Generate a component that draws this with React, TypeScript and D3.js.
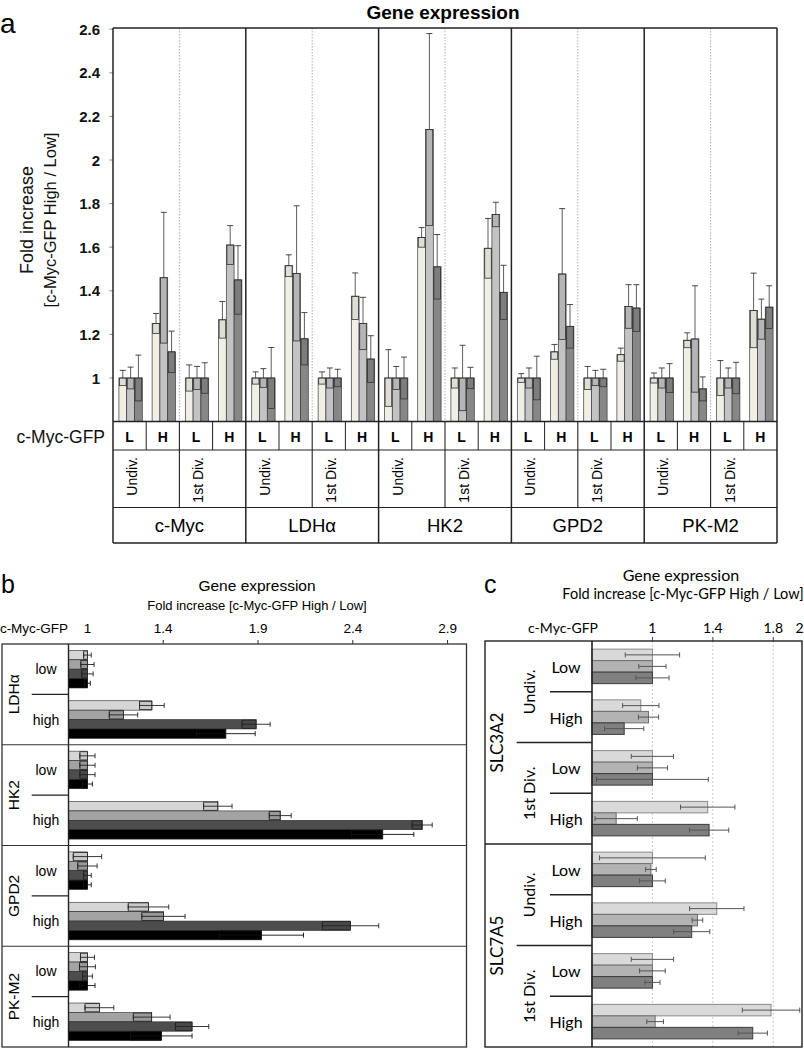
import React from 'react';
import * as d3 from 'd3';

// ---------------- Panel a data ----------------
const genesA = ['c-Myc', 'LDHα', 'HK2', 'GPD2', 'PK-M2'];
const divisionsA = ['Undiv.', '1st Div.'];
const levelsA = ['L', 'H'];
const yTicksA = [1, 1.2, 1.4, 1.6, 1.8, 2, 2.2, 2.4, 2.6];
// rows: Undiv L, Undiv H, 1st Div L, 1st Div H ; columns: 3 series
const cMycMeanA = [[1, 1, 1], [1.25, 1.46, 1.12], [1, 1, 1], [1.267, 1.61, 1.45]];
const cMycErrA = [[0.035, 0.05, 0.105], [0.046, 0.3, 0.095], [0.06, 0.053, 0.07], [0.084, 0.089, 0.157]];
const ldhMeanA = [[1, 1, 1], [1.515, 1.48, 1.18], [1, 1, 1], [1.375, 1.25, 1.087]];
const ldhErrA = [[0.028, 0.043, 0.14], [0.05, 0.31, 0.12], [0.028, 0.046, 0.04], [0.107, 0.12, 0.107]];
const hk2MeanA = [[1, 1, 1], [1.645, 2.14, 1.51], [1, 1, 1], [1.595, 1.75, 1.393]];
const hk2ErrA = [[0.13, 0.053, 0.096], [0.045, 0.44, 0.148], [0.046, 0.15, 0.049], [0.137, 0.056, 0.124]];
const gpd2MeanA = [[1, 1, 1], [1.12, 1.477, 1.237], [1, 1, 1], [1.107, 1.328, 1.321]];
const gpd2ErrA = [[0.02, 0.046, 0.1], [0.034, 0.3, 0.1], [0.053, 0.035, 0.04], [0.03, 0.1, 0.107]];
const pkm2MeanA = [[1, 1, 1], [1.173, 1.179, 0.95], [1, 1, 1], [1.31, 1.27, 1.325]];
const pkm2ErrA = [[0.023, 0.046, 0.066], [0.034, 0.244, 0.055], [0.08, 0.046, 0.072], [0.171, 0.092, 0.098]];
const meansA = [cMycMeanA, ldhMeanA, hk2MeanA, gpd2MeanA, pkm2MeanA];
const errsA = [cMycErrA, ldhErrA, hk2ErrA, gpd2ErrA, pkm2ErrA];
const colorsA = ['#efefe6', '#c3c3c3', '#878787'];

// ---------------- Panel b data ----------------
const genesB = ['LDHα', 'HK2', 'GPD2', 'PK-M2'];
const levelsB = ['low', 'high'];
const tickLabelsB = [1, 1.4, 1.9, 2.4, 2.9];
const ldhMeanB = [[1, 1, 1, 1], [1.34, 1.19, 1.89, 1.73]];
const ldhErrB = [[0.02, 0.035, 0.03, 0.015], [0.065, 0.075, 0.074, 0.155]];
const hk2MeanB = [[1, 1, 1, 1], [1.688, 2.017, 2.766, 2.558]];
const hk2ErrB = [[0.04, 0.04, 0.04, 0.026], [0.075, 0.058, 0.053, 0.164]];
const gpd2MeanB = [[1, 1, 1, 1], [1.322, 1.401, 2.388, 1.918]];
const gpd2ErrB = [[0.075, 0.051, 0.02, 0.02], [0.107, 0.114, 0.149, 0.222]];
const pkm2MeanB = [[1, 1, 1, 1], [1.063, 1.339, 1.552, 1.39]];
const pkm2ErrB = [[0.037, 0.042, 0.026, 0.04], [0.076, 0.097, 0.088, 0.162]];
const meansB = [ldhMeanB, hk2MeanB, gpd2MeanB, pkm2MeanB];
const errsB = [ldhErrB, hk2ErrB, gpd2ErrB, pkm2ErrB];
const colorsB = ['#d6d6d6', '#a3a3a3', '#4d4d4d', '#000000'];

// ---------------- Panel c data ----------------
const genesC = ['SLC3A2', 'SLC7A5'];
const divisionsC = ['Undiv.', '1st Div.'];
const levelsC = ['Low', 'High'];
const tickLabelsC = [1, 1.4, 1.8, 2];
const gridC = [1, 1.4, 1.8];
// rows: Undiv Low, Undiv High, 1st Div Low, 1st Div High
const slc3a2MeanC = [[1, 1, 1], [0.923, 0.974, 0.813], [1, 1, 1], [1.366, 0.76, 1.375]];
const slc3a2ErrC = [[0.18, 0.09, 0.11], [0.12, 0.067, 0.13], [0.14, 0.1, 0.37], [0.18, 0.14, 0.13]];
const slc7a5MeanC = [[1, 0.99, 1], [1.426, 1.298, 1.26], [1, 1, 1], [1.785, 1.018, 1.664]];
const slc7a5ErrC = [[0.35, 0.035, 0.085], [0.18, 0.035, 0.12], [0.14, 0.085, 0.05], [0.19, 0.055, 0.097]];
const meansC = [slc3a2MeanC, slc7a5MeanC];
const errsC = [slc3a2ErrC, slc7a5ErrC];
const colorsC = ['#d9d9d9', '#b3b3b3', '#808080'];
const strokesC = ['#8a8a8a', '#6e6e6e', '#3a3a3a'];

const ARIAL = 'Liberation Sans, Arial, Helvetica, sans-serif';
const LATO = 'Lato, Carlito, Calibri, sans-serif';

function PanelA() {
  const left = 113, right = 777, top = 28;
  const ya = d3.scaleLinear().domain([0.8, 2.6]).range([421.6, 29.2]);
  const bottom = ya(0.8);
  const row1 = 450, row2 = 507.5, row3 = 543;
  const xGene = d3.scaleBand<string>().domain(genesA).range([left, right]);
  const xDiv = d3.scaleBand<string>().domain(divisionsA).range([0, xGene.bandwidth()]);
  const xLev = d3.scaleBand<string>().domain(levelsA).range([0, xDiv.bandwidth()]);
  const xSer = d3.scaleBand<number>().domain([0, 1, 2]).range([0, xLev.bandwidth()]).paddingOuter(0.63);
  const bw = xSer.bandwidth();

  const bars: React.ReactNode[] = [];
  const overlays: React.ReactNode[] = [];
  genesA.forEach((g, gi) => {
    divisionsA.forEach((d, di) => {
      levelsA.forEach((l, li) => {
        const row = di * 2 + li;
        [0, 1, 2].forEach((s) => {
          const v = meansA[gi][row][s];
          const e = errsA[gi][row][s];
          const x = (xGene(g) as number) + (xDiv(d) as number) + (xLev(l) as number) + (xSer(s) as number) + 1;
          const key = `${gi}-${row}-${s}`;
          bars.push(
            <rect key={'b' + key} x={x} y={ya(v)} width={bw} height={bottom - ya(v)}
              fill={colorsA[s]} stroke="#3a3a3a" strokeWidth={0.7} />
          );
          const lo = Math.max(0.8, v - e);
          const cx = x + bw / 2;
          overlays.push(
            <g key={'e' + key}>
              <rect x={x + 0.6} y={ya(v)} width={bw - 1.2} height={ya(lo) - ya(v)}
                fill="rgba(0,0,0,0.07)" stroke="#333" strokeWidth={0.8} />
              <line x1={cx} x2={cx} y1={ya(v)} y2={ya(v + e)} stroke="#333" strokeWidth={0.8} />
              <line x1={cx - 3} x2={cx + 3} y1={ya(v + e)} y2={ya(v + e)} stroke="#333" strokeWidth={0.9} />
            </g>
          );
        });
      });
    });
  });

  const halfLines: React.ReactNode[] = [];
  const lhLines: React.ReactNode[] = [];
  genesA.forEach((g) => {
    divisionsA.forEach((d, di) => {
      const x0 = (xGene(g) as number) + (xDiv(d) as number);
      if (di === 1) {
        halfLines.push(<line key={'dot' + g} x1={x0} x2={x0} y1={top} y2={bottom} stroke="#9a9a9a" strokeWidth={0.8} strokeDasharray="1.5,1.5" />);
        halfLines.push(<line key={'half' + g} x1={x0} x2={x0} y1={bottom} y2={row2} stroke="#222" strokeWidth={1.1} />);
      }
      levelsA.forEach((l, li) => {
        const xl = x0 + (xLev(l) as number);
        if (li === 1) lhLines.push(<line key={'lh' + g + d} x1={xl} x2={xl} y1={bottom} y2={row1} stroke="#222" strokeWidth={1} />);
      });
    });
  });

  return (
    <g>
      <text x={0} y={33} fontFamily={ARIAL} fontSize={28}>a</text>
      <text x={443} y={18.5} textAnchor="middle" fontFamily={ARIAL} fontSize={19} fontWeight="bold">Gene expression</text>
      <g transform="translate(27,220) rotate(-90)">
        <text x={0} y={0} textAnchor="middle" dominantBaseline="central" fontFamily={ARIAL} fontSize={18} fill="#111">Fold increase</text>
      </g>
      <g transform="translate(50,220) rotate(-90)">
        <text x={0} y={0} textAnchor="middle" dominantBaseline="central" fontFamily={ARIAL} fontSize={16.5} fill="#111">[c-Myc-GFP High / Low]</text>
      </g>
      {yTicksA.map((t) => (
        <g key={t}>
          <text x={100} y={ya(t)} textAnchor="end" dominantBaseline="central" fontFamily={ARIAL} fontSize={15} fontWeight="bold" fill="#111">{d3.format('~g')(t)}</text>
          <line x1={left - 3.5} x2={left} y1={ya(t)} y2={ya(t)} stroke="#666" strokeWidth={0.8} />
        </g>
      ))}
      {halfLines}
      {bars}
      {overlays}
      {/* plot frame */}
      <line x1={left} x2={right} y1={top} y2={top} stroke="#222" strokeWidth={1.5} />
      <line x1={left} x2={left} y1={top} y2={row3} stroke="#222" strokeWidth={1.5} />
      <line x1={right} x2={right} y1={top} y2={row3} stroke="#222" strokeWidth={1.5} />
      {genesA.slice(1).map((g) => (
        <line key={'gs' + g} x1={xGene(g)} x2={xGene(g)} y1={top} y2={row3} stroke="#222" strokeWidth={1.5} />
      ))}
      {/* table */}
      {[bottom, row1, row2, row3].map((y, i) => (
        <line key={'tr' + i} x1={left} x2={right} y1={y} y2={y} stroke="#222" strokeWidth={i === 0 || i === 3 ? 1.5 : 1.1} />
      ))}
      {lhLines}
      <text x={105} y={436.5} textAnchor="end" dominantBaseline="central" fontFamily={ARIAL} fontSize={17.5} fill="#111">c-Myc-GFP</text>
      {genesA.map((g) => (
        <g key={'tx' + g}>
          {divisionsA.map((d) => (
            <g key={d}>
              {levelsA.map((l) => (
                <text key={l} x={(xGene(g) as number) + (xDiv(d) as number) + (xLev(l) as number) + xLev.bandwidth() / 2}
                  y={436.5} textAnchor="middle" dominantBaseline="central" fontFamily={ARIAL} fontSize={14} fontWeight="bold">{l}</text>
              ))}
              <g transform={`translate(${(xGene(g) as number) + (xDiv(d) as number) + 19},457) rotate(-90)`}>
                <text x={0} y={0} textAnchor="end" dominantBaseline="central" fontFamily={ARIAL} fontSize={14}>{d}</text>
              </g>
            </g>
          ))}
          <text x={(xGene(g) as number) + xGene.bandwidth() / 2} y={525.5} textAnchor="middle" dominantBaseline="central"
            fontFamily={ARIAL} fontSize={18.5}>{g}</text>
        </g>
      ))}
    </g>
  );
}

function PanelB() {
  const left = 2, axisX = 68.5, right = 466.5, top = 644, bottom = 1047;
  const xb = d3.scaleLinear().domain([0.9, 3.0]).range([axisX, right]);
  const yGene = d3.scaleBand<string>().domain(genesB).range([top, bottom]);
  const yLev = d3.scaleBand<string>().domain(levelsB).range([0, yGene.bandwidth()]);
  const ySer = d3.scaleBand<number>().domain([0, 1, 2, 3]).range([0, yLev.bandwidth()]).paddingOuter(0.68);
  const bh = ySer.bandwidth();
  const marks: React.ReactNode[] = [];
  genesB.forEach((g, gi) => {
    levelsB.forEach((l, li) => {
      [0, 1, 2, 3].forEach((s) => {
        const v = meansB[gi][li][s];
        const e = errsB[gi][li][s];
        const y = (yGene(g) as number) + (yLev(l) as number) + (ySer(s) as number);
        const cy = y + bh / 2;
        const ec = s === 3 ? '#111' : '#222';
        marks.push(
          <g key={`${gi}-${li}-${s}`}>
            <rect x={axisX} y={y} width={xb(v) - axisX} height={bh} fill={colorsB[s]} stroke="#2a2a2a" strokeWidth={0.6} />
            <rect x={xb(v - e)} y={y + 0.6} width={xb(v) - xb(v - e)} height={bh - 1.2} fill="rgba(0,0,0,0.06)" stroke={ec} strokeWidth={0.8} />
            <line x1={xb(v - e)} x2={xb(v + e)} y1={cy} y2={cy} stroke={ec} strokeWidth={0.9} />
            <line x1={xb(v + e)} x2={xb(v + e)} y1={cy - 2.5} y2={cy + 2.5} stroke={ec} strokeWidth={0.9} />
            <line x1={xb(v - e)} x2={xb(v - e)} y1={cy - 2.5} y2={cy + 2.5} stroke={ec} strokeWidth={0.9} />
          </g>
        );
      });
    });
  });
  return (
    <g>
      <text x={1} y={593} fontFamily={ARIAL} fontSize={25}>b</text>
      <text x={257} y={591} textAnchor="middle" fontFamily={ARIAL} fontSize={15.5}>Gene expression</text>
      <text x={257} y={610} textAnchor="middle" fontFamily={ARIAL} fontSize={13}>Fold increase [c-Myc-GFP High / Low]</text>
      <text x={34} y={633} textAnchor="middle" fontFamily={ARIAL} fontSize={13.5}>c-Myc-GFP</text>
      {tickLabelsB.map((t) => (
        <text key={t} x={xb(t)} y={633} textAnchor="middle" fontFamily={ARIAL} fontSize={13.5}>{t}</text>
      ))}
      {tickLabelsB.slice(1).map((t) => (
        <line key={'tk' + t} x1={xb(t)} x2={xb(t)} y1={top} y2={top - 4} stroke="#333" strokeWidth={1} />
      ))}
      {marks}
      <rect x={left} y={top} width={right - left} height={bottom - top} fill="none" stroke="#333" strokeWidth={1.3} />
      <line x1={axisX} x2={axisX} y1={top} y2={bottom} stroke="#222" strokeWidth={1.4} />
      {genesB.slice(1).map((g) => (
        <line key={'gs' + g} x1={left} x2={right} y1={yGene(g)} y2={yGene(g)} stroke="#333" strokeWidth={1.1} />
      ))}
      {genesB.map((g) => {
        const y0 = yGene(g) as number;
        const mid = y0 + (yLev('high') as number);
        return (
          <g key={'lab' + g}>
            <line x1={31.7} x2={axisX} y1={mid} y2={mid} stroke="#222" strokeWidth={1.3} />
            <g transform={`translate(13,${y0 + yGene.bandwidth() / 2}) rotate(-90)`}>
              <text x={0} y={0} textAnchor="middle" dominantBaseline="central" fontFamily={ARIAL} fontSize={15.5}>{g}</text>
            </g>
            {levelsB.map((l) => (
              <text key={l} x={46} y={y0 + (yLev(l) as number) + yLev.bandwidth() / 2} textAnchor="middle"
                dominantBaseline="central" fontFamily={ARIAL} fontSize={14}>{l}</text>
            ))}
          </g>
        );
      })}
    </g>
  );
}

function PanelC() {
  const left = 485, axisX = 592, right = 802, top = 641, bottom = 1047;
  const xc = d3.scaleLinear().domain([0.6, 2.0]).range([axisX, 803.5]);
  const yGene = d3.scaleBand<string>().domain(genesC).range([top, bottom]);
  const yDiv = d3.scaleBand<string>().domain(divisionsC).range([0, yGene.bandwidth()]);
  const yLev = d3.scaleBand<string>().domain(levelsC).range([0, yDiv.bandwidth()]);
  const ySer = d3.scaleBand<number>().domain([0, 1, 2]).range([0, yLev.bandwidth()]).paddingOuter(0.706);
  const bh = ySer.bandwidth();
  const marks: React.ReactNode[] = [];
  const labels: React.ReactNode[] = [];
  genesC.forEach((g, gi) => {
    const g0 = yGene(g) as number;
    if (gi > 0) labels.push(<line key={'gs' + g} x1={left} x2={axisX} y1={g0} y2={g0} stroke="#222" strokeWidth={1.4} />);
    labels.push(
      <g key={'gl' + g} transform={`translate(496,${g0 + yGene.bandwidth() / 2}) rotate(-90)`}>
        <text x={0} y={0} textAnchor="middle" dominantBaseline="central" fontFamily={LATO} fontSize={17}>{g}</text>
      </g>
    );
    divisionsC.forEach((d, di) => {
      const d0 = g0 + (yDiv(d) as number);
      if (di > 0) labels.push(<line key={'ds' + g + d} x1={516.7} x2={axisX} y1={d0} y2={d0} stroke="#222" strokeWidth={1.4} />);
      labels.push(
        <g key={'dl' + g + d} transform={`translate(528,${d0 + yDiv.bandwidth() / 2}) rotate(-90)`}>
          <text x={0} y={0} textAnchor="middle" dominantBaseline="central" fontFamily={LATO} fontSize={16}>{d}</text>
        </g>
      );
      levelsC.forEach((l, li) => {
        const l0 = d0 + (yLev(l) as number);
        if (li > 0) labels.push(<line key={'ls' + g + d} x1={550} x2={axisX} y1={l0} y2={l0} stroke="#222" strokeWidth={1.4} />);
        labels.push(
          <text key={'ll' + g + d + l} x={566} y={l0 + yLev.bandwidth() / 2} textAnchor="middle" dominantBaseline="central"
            fontFamily={LATO} fontSize={16}>{l}</text>
        );
        const row = di * 2 + li;
        [0, 1, 2].forEach((s) => {
          const v = meansC[gi][row][s];
          const e = errsC[gi][row][s];
          const y = l0 + (ySer(s) as number);
          const cy = y + bh / 2;
          marks.push(
            <g key={`${gi}-${row}-${s}`}>
              <rect x={axisX} y={y} width={xc(v) - axisX} height={bh} fill={colorsC[s]} stroke={strokesC[s]} strokeWidth={1} />
              <line x1={xc(v - e)} x2={xc(v + e)} y1={cy} y2={cy} stroke="#555" strokeWidth={1} />
              <line x1={xc(v - e)} x2={xc(v - e)} y1={cy - 2.5} y2={cy + 2.5} stroke="#555" strokeWidth={1} />
              <line x1={xc(v + e)} x2={xc(v + e)} y1={cy - 2.5} y2={cy + 2.5} stroke="#555" strokeWidth={1} />
            </g>
          );
        });
      });
    });
  });
  return (
    <g>
      <text x={484} y={593} fontFamily={ARIAL} fontSize={25}>c</text>
      <text x={681} y={581} textAnchor="middle" fontFamily={LATO} fontSize={16}>Gene expression</text>
      <text x={683} y={599} textAnchor="middle" fontFamily={LATO} fontSize={14.5}>Fold increase [c-Myc-GFP High / Low]</text>
      <text x={563} y={633} textAnchor="middle" fontFamily={LATO} fontSize={14}>c-Myc-GFP</text>
      {tickLabelsC.map((t, i) => (
        <text key={t} x={xc(t)} y={633} textAnchor={i === tickLabelsC.length - 1 ? 'end' : 'middle'}
          fontFamily={LATO} fontSize={14}>{t}</text>
      ))}
      {gridC.map((t) => (
        <g key={'g' + t}>
          <line x1={xc(t)} x2={xc(t)} y1={top} y2={bottom} stroke="#bdbdbd" strokeWidth={0.8} strokeDasharray="2,2" />
          <line x1={xc(t)} x2={xc(t)} y1={top} y2={top - 4} stroke="#444" strokeWidth={1} />
        </g>
      ))}
      {marks}
      <rect x={left} y={top} width={right - left} height={bottom - top} fill="none" stroke="#222" strokeWidth={1.4} />
      <line x1={axisX} x2={axisX} y1={top} y2={bottom} stroke="#222" strokeWidth={1.6} />
      {labels}
    </g>
  );
}

export default function App() {
  return (
    <svg width={804} height={1050} viewBox="0 0 804 1050"
      style={{ position: 'absolute', left: 0, top: 0, background: '#fff' }}>
      <rect x={0} y={0} width={804} height={1050} fill="#fff" />
      <PanelA />
      <PanelB />
      <PanelC />
    </svg>
  );
}
